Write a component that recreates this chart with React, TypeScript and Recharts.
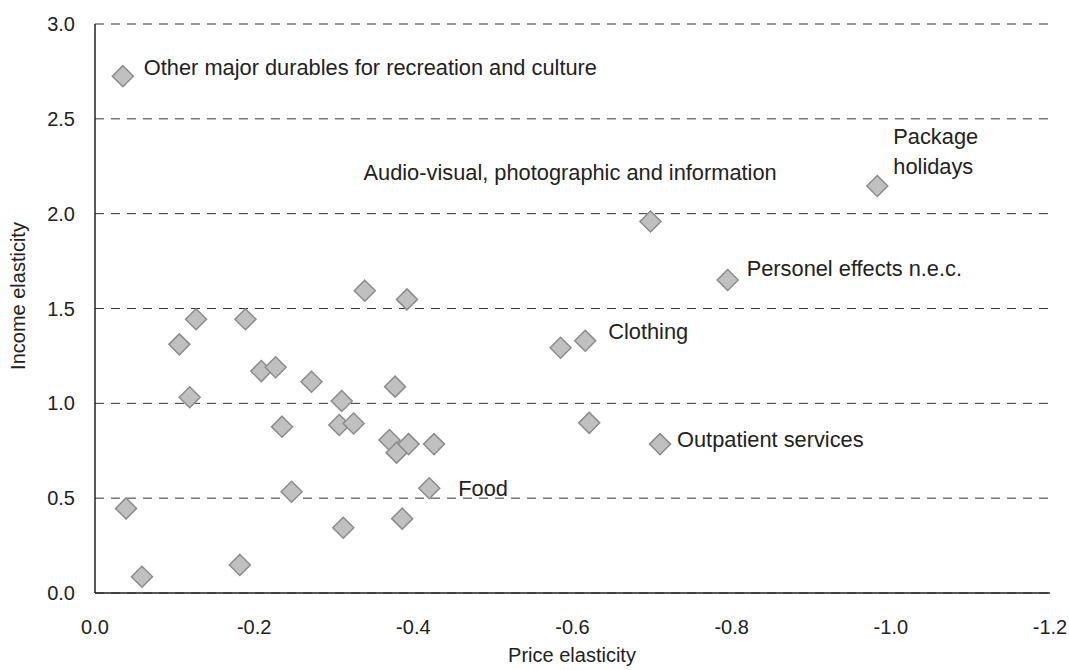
import React from "react";
import { ScatterChart, Scatter, XAxis, YAxis, CartesianGrid } from "recharts";

// price elasticity (x) and income elasticity (y) per product group
const priceElasticity = [
  -0.035, -0.039, -0.059, -0.106, -0.119, -0.127, -0.182, -0.189, -0.209, -0.227, -0.235,
  -0.247, -0.272, -0.307, -0.31, -0.312, -0.325, -0.339, -0.37, -0.377, -0.379, -0.386,
  -0.392, -0.394, -0.42, -0.426, -0.585, -0.616, -0.621, -0.698, -0.71, -0.795, -0.983,
];
const incomeElasticity = [
  2.725, 0.446, 0.086, 1.311, 1.032, 1.443, 0.148, 1.443, 1.17, 1.19, 0.877,
  0.534, 1.114, 0.886, 1.012, 0.344, 0.894, 1.594, 0.807, 1.088, 0.74, 0.392,
  1.548, 0.785, 0.552, 0.785, 1.293, 1.33, 0.897, 1.959, 0.785, 1.65, 2.146,
];
const pointNames = [
  "Other major durables for recreation and culture", "", "", "", "", "", "", "", "", "", "",
  "", "", "", "", "", "", "", "", "", "", "",
  "", "", "Food", "", "", "Clothing", "", "Audio-visual, photographic and information",
  "Outpatient services", "Personel effects n.e.c.", "Package holidays",
];

const xTicks = [0, -0.2, -0.4, -0.6, -0.8, -1.0, -1.2];
const yTicks = [0, 0.5, 1.0, 1.5, 2.0, 2.5, 3.0];

// where each annotation sits relative to its marker
const labelPlacement: any = {
  "Other major durables for recreation and culture": { dx: 21, dy: -9 },
  Food: { dx: 29, dy: 0 },
  Clothing: { dx: 23, dy: -9 },
  "Audio-visual, photographic and information": { dx: -287, dy: -49 },
  "Outpatient services": { dx: 17, dy: -5 },
  "Personel effects n.e.c.": { dx: 19, dy: -12 },
  "Package holidays": { dx: 16, dy: -49, lines: ["Package", "holidays"] },
};

const data = priceElasticity.map((x, i) => ({
  x,
  y: incomeElasticity[i],
  name: pointNames[i],
}));

const textColor = "#222";

const Diamond = (props: any) => {
  const { cx, cy, payload } = props;
  const r = 10.5;
  const place = payload.name ? labelPlacement[payload.name] : null;
  const lines = place ? place.lines || [payload.name] : [];
  return (
    <g>
      <polygon
        points={`${cx},${cy - r} ${cx + r},${cy} ${cx},${cy + r} ${cx - r},${cy}`}
        fill="#c0c0c0"
        stroke="#8c8c8c"
        strokeWidth={1.5}
      />
      {lines.map((line: string, k: number) => (
        <text
          key={k}
          x={cx + place.dx}
          y={cy + place.dy + k * 30}
          dominantBaseline="central"
          fontSize={21.8}
          fill={textColor}
        >
          {line}
        </text>
      ))}
    </g>
  );
};

const fmt = (v: number) => (v === 0 ? "0.0" : v.toFixed(1));

export default function App() {
  return (
    <div style={{ position: "absolute", left: 0, top: 0, fontFamily: "'Liberation Sans', Arial, sans-serif" }}>
      <ScatterChart width={1069} height={670} margin={{ top: 24, right: 19, bottom: 17, left: 0 }}>
        <CartesianGrid vertical={false} stroke="#333" strokeDasharray="9 7" />
        <XAxis
          type="number"
          dataKey="x"
          domain={[-1.2, 0]}
          reversed
          ticks={xTicks}
          interval={0}
          tickFormatter={fmt}
          height={60}
          tickLine={false}
          tickSize={0}
          tickMargin={27}
          axisLine={{ stroke: "#222", strokeWidth: 1.5 }}
          tick={{ fill: textColor, fontSize: 20 }}
          label={{
            content: () => (
              <text x={572} y={655} textAnchor="middle" dominantBaseline="central" fontSize={20} fill={textColor}>
                Price elasticity
              </text>
            ),
          }}
        />
        <YAxis
          type="number"
          dataKey="y"
          domain={[0, 3]}
          ticks={yTicks}
          interval={0}
          tickFormatter={fmt}
          width={95}
          tickLine={false}
          tickSize={0}
          tickMargin={20}
          axisLine={{ stroke: "#222", strokeWidth: 1.5 }}
          tick={{ fill: textColor, fontSize: 20 }}
          label={{
            content: () => (
              <text
                x={18}
                y={296}
                transform="rotate(-90, 18, 296)"
                textAnchor="middle"
                dominantBaseline="central"
                fontSize={20}
                fill={textColor}
              >
                Income elasticity
              </text>
            ),
          }}
        />
        <Scatter data={data} shape={Diamond} isAnimationActive={false} />
      </ScatterChart>
    </div>
  );
}
